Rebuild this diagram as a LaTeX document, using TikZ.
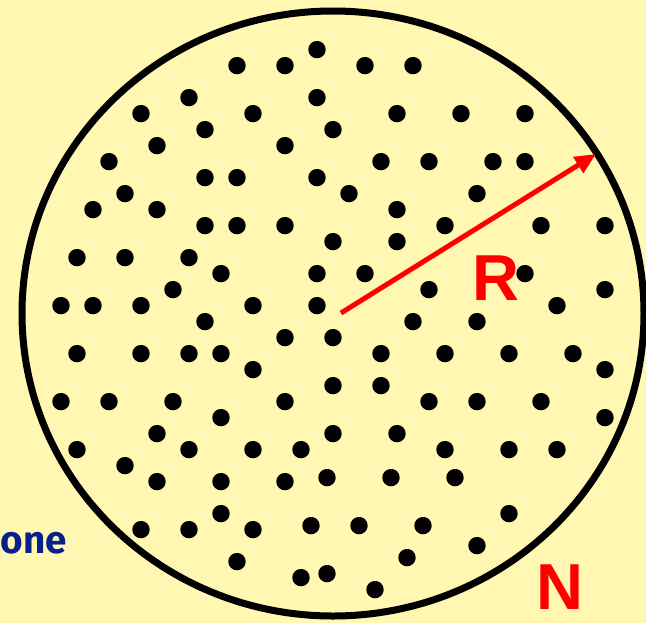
\documentclass[tikz,border=0pt]{standalone}
\usepackage{fontspec}
\setmainfont{Liberation Sans}
\newfontfamily\handfont{Fira Sans}
\usetikzlibrary{arrows.meta}
\definecolor{paper}{RGB}{255,247,178}
\definecolor{inkblue}{RGB}{8,32,140}

\begin{document}
\begin{tikzpicture}[
		x=0.02cm, y=-0.02cm,
		rim/.style={draw=black, line width=7*0.02cm},
		particle/.style={fill=black},
		radius arrow/.style={-{Triangle[length=0.42cm, width=0.36cm]}, draw=red, line width=5*0.02cm},
		biglabel/.style={text=red, font=\fontsize{37}{40}\selectfont\bfseries, inner sep=0pt},
		sidelabel/.style={text=inkblue, font=\handfont\fontsize{22}{26}\selectfont\bfseries, inner sep=0pt}
		]
		
		% BACKGROUND
		\fill[paper] (0,0) rectangle (646,623);
		\useasboundingbox (0,0) rectangle (646,623);
		
		% REGION (ellipse)
		\coordinate (centre) at (333,313.5);
		\draw[rim] (centre) ellipse [x radius=311, y radius=302.5];
		
		% PARTICLES
		\foreach \px/\py in {317/49, 237/65, 285/65, 365/65, 413/65, 189/97, 317/97,
			141/113, 253/113, 397/113, 461/113, 525/113, 205/129, 333/129, 157/145, 285/145,
			109/161, 381/161, 429/161, 493/161, 525/161, 205/177, 237/177, 317/177,
			125/193, 349/193, 477/193, 93/209, 157/209, 397/209,
			205/225, 237/225, 285/225, 445/225, 541/225, 605/225, 333/241, 397/241,
			77/257, 125/257, 189/257, 221/273, 317/273, 365/273, 525/273,
			173/289, 429/289, 605/289, 61/305, 93/305, 141/305, 253/305, 317/305, 557/305,
			205/321, 413/321, 477/321, 285/337, 333/337,
			77/353, 141/353, 189/353, 221/353, 381/353, 445/353, 509/353, 573/353,
			253/369, 605/369, 333/385, 381/385,
			61/401, 109/401, 173/401, 285/401, 429/401, 477/401, 541/401, 221/417, 605/417,
			157/433, 333/433, 397/433, 77/449, 189/449, 253/449, 301/449, 445/449, 509/449, 557/449,
			125/465, 157/481, 221/481, 285/481, 327/477, 391/477, 455/477,
			221/513, 509/513, 141/529, 189/529, 253/529, 311/525, 359/525, 423/525,
			477/545, 237/561, 407/557, 301/577, 327/573, 375/589}
		\fill[particle] (\px,\py+0.6) circle [radius=8.7];
		
		% RADIUS
		\coordinate (start) at (341,313);
		\coordinate (edge) at (596,154);
		\draw[radius arrow] (start) -- (edge);
		
		% LABELS
		\node[biglabel] (rlabel) at (495.5,278.5) {R};
		\node[biglabel] (nlabel) at (559.5,587) {N};
		\node[sidelabel, anchor=base west] (zonelabel) at (0.5,553) {one};
		
	\end{tikzpicture}
\end{document}
